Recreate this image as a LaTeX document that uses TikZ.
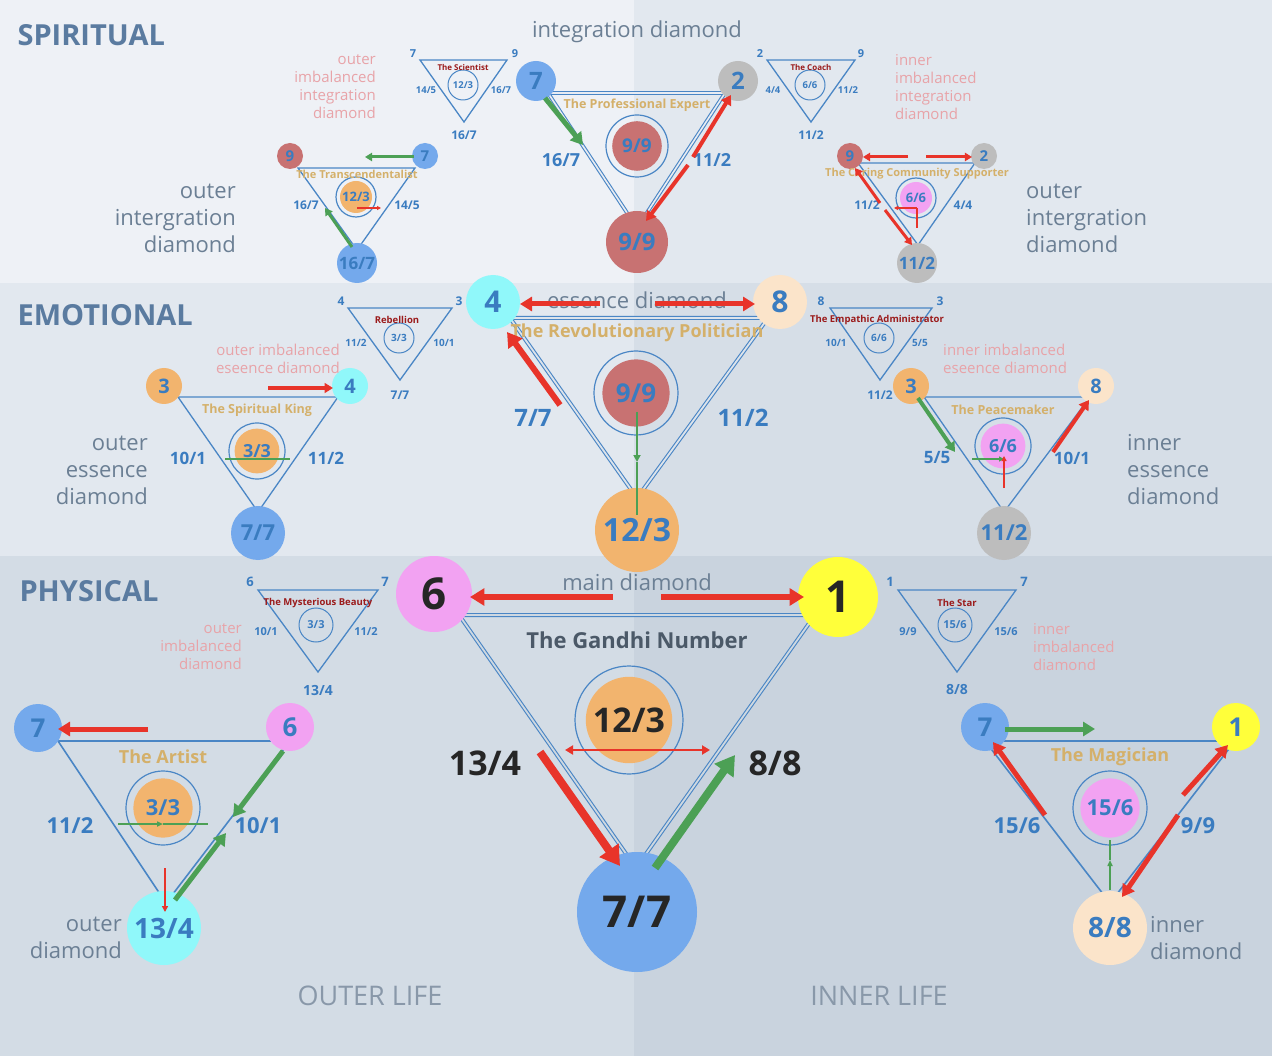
\documentclass[tikz,border=0pt]{standalone}
\usepackage{fontspec}
\setmainfont{Open Sans}
\usetikzlibrary{arrows.meta}
\definecolor{bA}{HTML}{EEF1F6}\definecolor{bB}{HTML}{E2E8EF}
\definecolor{bC}{HTML}{E2E8EF}\definecolor{bD}{HTML}{D6DEE7}
\definecolor{bE}{HTML}{D3DCE5}\definecolor{bF}{HTML}{C9D3DE}
\definecolor{tb}{HTML}{3A7CC0}\definecolor{ln}{HTML}{4A86C5}
\definecolor{cblue}{HTML}{74A9EC}\definecolor{cred}{HTML}{C87272}
\definecolor{cgray}{HTML}{BDBDBD}\definecolor{corange}{HTML}{F2B46E}
\definecolor{cpink}{HTML}{F2A2F2}\definecolor{ccyan}{HTML}{90F8FA}
\definecolor{cpeach}{HTML}{FBE4CA}\definecolor{cyel}{HTML}{FFFF3A}
\definecolor{ar}{HTML}{E8342A}\definecolor{ag}{HTML}{4CA055}
\definecolor{gold}{HTML}{D4B06A}\definecolor{dred}{HTML}{9B1B1B}
\definecolor{pk}{HTML}{E8A3A8}\definecolor{sec}{HTML}{5A7BA0}
\definecolor{gr}{HTML}{6B7F94}
\newcommand{\fs}[1]{\fontsize{#1}{#1}\selectfont}
\newcommand{\fl}[2]{\fontsize{#1}{#2}\selectfont}
\newcommand{\cn}[6]{\node[circle,fill=#4,minimum size=#3*2pt,inner sep=0,text=tb,font=\bfseries\fs{#6}] (#1) at (#2) {#5};}
\newcommand{\rg}[6]{\draw[ln,line width=1.2pt] (#2) circle (#3);\node[circle,fill=#4,minimum size=#3*1.6pt,inner sep=0,text=tb,font=\bfseries\fs{#6}] (#1) at (#2) {#5};}
\tikzset{tri/.style={ln,line width=1.3pt},
 lb/.style={text=tb,font=\bfseries\fs{#1}},
 tt/.style={text=gold,font=\bfseries\fs{#1}},
 dt/.style={text=dred,font=\bfseries\fs{#1}},
 R/.style={ar,line width=#1,-{Triangle[length=#1*2.4,width=#1*2.8]}},
 G/.style={ag,line width=#1,-{Triangle[length=#1*2.4,width=#1*2.8]}},
 gl/.style={text=gr,font=\fl{22}{27},inner sep=0},
 pl/.style={text=pk,font=\fl{15}{18},inner sep=0},
 x=1pt,y=-1pt}
\begin{document}
\begin{tikzpicture}
\fill[bA] (0,0) rectangle (634,283);\fill[bB] (634,0) rectangle (1272,283);
\fill[bC] (0,283) rectangle (634,556);\fill[bD] (634,283) rectangle (1272,556);
\fill[bE] (0,556) rectangle (634,1056);\fill[bF] (634,556) rectangle (1272,1056);
\useasboundingbox (0,0) rectangle (1272,1056);
\node[anchor=west,text=sec,font=\bfseries\fs{29}] (s1) at (14,35) {SPIRITUAL};
\node[anchor=west,text=sec,font=\bfseries\fs{29}] (s2) at (14,315) {EMOTIONAL};
\node[anchor=west,text=sec,font=\bfseries\fs{29}] (s3) at (16,591) {PHYSICAL};
\node[text=gr!80,font=\fs{27}] (ol) at (370,996) {OUTER LIFE};
\node[text=gr!80,font=\fs{27}] (il) at (879,996) {INNER LIFE};
% ===== main diamond
\draw[ln,line width=1.1pt,double,double distance=1.8pt,double=bE!50!bF] (459,615) -- (815,615) -- (636,868) -- cycle;
\node[text=gr,font=\fs{22}] (md) at (637,582) {main diamond};
\node[text=gr!70!black,font=\bfseries\fs{22}] (gn) at (637,640) {The Gandhi Number};
\cn{m6}{434,594}{38}{cpink}{\textcolor{black!85}{6}}{44}
\cn{m1}{838,597}{40}{cyel}{\textcolor{black!85}{1}}{44}
\cn{m77}{637,912}{60}{cblue}{\textcolor{black!85}{7/7}}{44}
\rg{m123}{629,720}{54}{corange}{\textcolor{black!85}{12/3}}{34}
\draw[R=6] (613,597) -- (470,597);\draw[R=6] (661,597) -- (804,597);
\draw[ar,line width=2pt,{Triangle[length=8,width=9]}-{Triangle[length=8,width=9]}] (565,750) -- (710,750);
\node[text=black!85,font=\bfseries\fs{34}] (l134) at (485,763) {13/4};
\node[text=black!85,font=\bfseries\fs{34}] (l88) at (775,763) {8/8};
\draw[R=8] (540,752) -- (620,866);
\draw[G=8] (655,868) -- (735,755);
% ===== outer diamond
\draw[tri,line width=1.6pt] (58,741) -- (290,741) -- (166,903) -- cycle;
\cn{o7}{38,728}{24}{cblue}{7}{26}
\cn{o6}{290,727}{24}{cpink}{6}{26}
\cn{o134}{164,928}{37}{ccyan}{13/4}{28}
\rg{o33}{163,808}{37}{corange}{3/3}{22}
\node[tt=18] (oa) at (163,757) {The Artist};
\node[lb=22] (o112) at (70,826) {11/2};\node[lb=22] (o101) at (258,826) {10/1};
\draw[R=5] (148,729) -- (58,729);
\draw[G=5] (283,751) -- (233,817);
\draw[G=5] (175,900) -- (226,833);
\draw[ar,line width=1.8pt,-{Triangle[length=6,width=6]}] (165,868) -- (165,912);
\draw[ag,line width=1.8pt,-{Triangle[length=6,width=5]}] (118,824) -- (163,824);\draw[ag,line width=1.8pt] (163,824) -- (208,824);
\node[anchor=east,gl,align=right] (odl) at (122,938) {outer\\diamond};
% ===== inner diamond
\draw[tri,line width=1.6pt] (985,741) -- (1235,741) -- (1110,903) -- cycle;
\cn{i7}{985,727}{24}{cblue}{7}{26}
\cn{i1}{1236,727}{24}{cyel}{1}{26}
\cn{i88}{1110,928}{37}{cpeach}{8/8}{28}
\rg{i156}{1110,808}{37}{cpink}{15/6}{22}
\node[tt=18] (im) at (1110,757) {The Magician};
\node[lb=22] (i156l) at (1017,826) {15/6};\node[lb=22] (i99) at (1198,826) {9/9};
\draw[G=5] (1005,729) -- (1095,729);
\draw[R=5] (1045,815) -- (993,742);
\draw[R=5] (1178,815) -- (1122,897);
\draw[R=5] (1183,795) -- (1228,745);
\draw[ag,line width=1.8pt,-{Triangle[length=6,width=5]}] (1110,890) -- (1110,860);\draw[ag,line width=1.8pt] (1110,860) -- (1110,840);
\node[anchor=west,gl,align=left] (idl) at (1150,938) {inner\\diamond};
% ===== physical small
\draw[tri] (258,590) -- (378,590) -- (318,672) -- cycle;
\draw[ln,line width=1pt] (316,625) circle (17);\node[lb=11] (mb33) at (316,625) {3/3};
\node[dt=9.5] (mbt) at (318,603) {The Mysterious Beauty};
\node[lb=13] (a1) at (250,582) {6};\node[lb=13] (a2) at (385,582) {7};
\node[lb=11] (a3) at (266,632) {10/1};\node[lb=11] (a4) at (366,632) {11/2};\node[lb=14] (a5) at (318,690) {13/4};
\node[anchor=east,pl,align=right] (a6) at (242,647) {outer\\imbalanced\\diamond};
\draw[tri] (898,590) -- (1016,590) -- (957,672) -- cycle;
\draw[ln,line width=1pt] (955,625) circle (17);\node[lb=11] (st156) at (955,625) {15/6};
\node[dt=9.5] (stt) at (957,603) {The Star};
\node[lb=13] (b1) at (890,582) {1};\node[lb=13] (b2) at (1024,582) {7};
\node[lb=11] (b3) at (908,632) {9/9};\node[lb=11] (b4) at (1006,632) {15/6};\node[lb=14] (b5) at (957,690) {8/8};
\node[anchor=west,pl,align=left] (b6) at (1033,647) {inner\\imbalanced\\diamond};
% ===== essence diamond
\draw[ln,line width=1.1pt,double,double distance=1.8pt,double=bC!50!bD] (510,318) -- (768,318) -- (637,498) -- cycle;
\node[text=gr,font=\fs{22}] (ed) at (637,300) {essence diamond};
\cn{e4}{493,302}{27}{ccyan}{4}{30}
\cn{e8}{780,302}{27}{cpeach}{8}{30}
\cn{e123}{637,530}{42}{corange}{12/3}{32}
\rg{e99}{636,393}{42}{cred}{9/9}{26}
\node[tt=18] (rp) at (637,333) {The Revolutionary Politician};
\draw[R=5] (600,304) -- (520,304);\draw[R=5] (655,304) -- (755,304);
\node[lb=24] (e77) at (533,418) {7/7};\node[lb=24] (e112) at (743,418) {11/2};
\draw[R=6] (560,405) -- (507,332);
\draw[ag,line width=2.5pt,-{Triangle[length=7,width=7]}] (637,412) -- (637,462);\draw[ag,line width=2.5pt] (637,462) -- (637,515);
% outer essence
\draw[tri] (178,397) -- (338,397) -- (258,512) -- cycle;
\cn{oe3}{164,386}{18}{corange}{3}{20}
\cn{oe4}{350,386}{18}{ccyan}{4}{20}
\cn{oe77}{258,533}{27}{cblue}{7/7}{22}
\rg{oe33}{257,451}{28}{corange}{3/3}{18}
\node[tt=12.5] (sk) at (257,410) {The Spiritual King};
\node[lb=17] (c1) at (188,458) {10/1};\node[lb=17] (c2) at (326,458) {11/2};
\draw[R=3.5] (268,388) -- (333,388);
\draw[ag,line width=1.8pt] (225,459) -- (290,459);
\node[anchor=east,gl,align=right] (c3) at (148,470) {outer\\essence\\diamond};
\node[anchor=east,pl,align=right] (c4) at (340,359) {outer imbalanced\\eseence diamond};
\draw[tri] (348,308) -- (452,308) -- (400,380) -- cycle;
\draw[ln,line width=1pt] (399,338) circle (15);\node[lb=10] (rb33) at (399,338) {3/3};
\node[dt=9.5] (rbt) at (397,320) {Rebellion};
\node[lb=12] (d1) at (341,301) {4};\node[lb=12] (d2) at (459,301) {3};
\node[lb=10] (d3) at (356,343) {11/2};\node[lb=10] (d4) at (444,343) {10/1};\node[lb=12] (d5) at (400,395) {7/7};
% inner essence
\draw[tri] (924,397) -- (1090,397) -- (1004,512) -- cycle;
\cn{ie3}{911,386}{18}{corange}{3}{20}
\cn{ie8}{1096,386}{18}{cpeach}{8}{20}
\cn{ie112}{1004,533}{27}{cgray}{11/2}{22}
\rg{ie66}{1003,446}{28}{cpink}{6/6}{18}
\node[tt=12.5] (pm) at (1003,410) {The Peacemaker};
\node[lb=17] (e1) at (937,458) {5/5};\node[lb=17] (e2) at (1072,458) {10/1};
\draw[G=4] (918,398) -- (955,452);
\draw[R=4] (1053,452) -- (1089,400);
\draw[ag,line width=1.8pt,-{Triangle[length=5,width=5]}] (972,459) -- (1004,459);
\draw[ar,line width=1.8pt,-{Triangle[length=5,width=5]}] (1004,488) -- (1004,456);
\node[anchor=west,gl,align=left] (e3) at (1127,470) {inner\\essence\\diamond};
\node[anchor=west,pl,align=left] (e4l) at (943,359) {inner imbalanced\\eseence diamond};
\draw[tri] (830,308) -- (932,308) -- (880,380) -- cycle;
\draw[ln,line width=1pt] (879,338) circle (15);\node[lb=10] (ea66) at (879,338) {6/6};
\node[dt=9.5] (eat) at (877,320) {The Empathic Administrator};
\node[lb=12] (f1) at (821,301) {8};\node[lb=12] (f2) at (940,301) {3};
\node[lb=10] (f3) at (836,343) {10/1};\node[lb=10] (f4) at (920,343) {5/5};\node[lb=12] (f5) at (880,395) {11/2};
% ===== integration diamond
\draw[ln,line width=1.1pt,double,double distance=1.6pt,double=bA!50!bB] (548,93) -- (725,93) -- (637,228) -- cycle;
\node[text=gr,font=\fs{22}] (igd) at (637,32) {integration diamond};
\cn{g7}{536,81}{20}{cblue}{7}{24}
\cn{g2}{738,81}{20}{cgray}{2}{24}
\cn{g99}{637,242}{31}{cred}{9/9}{24}
\rg{g99i}{637,146}{31}{cred}{9/9}{19}
\node[tt=12.5] (pe) at (637,105) {The Professional Expert};
\node[lb=18] (g1) at (561,160) {16/7};\node[lb=18] (g2l) at (712,160) {11/2};
\draw[G=5] (545,98) -- (583,145);
\draw[R=4] (693,157) -- (731,95);
\draw[R=4] (688,165) -- (646,221);
% outer integration
\draw[tri] (298,168) -- (415,168) -- (357,250) -- cycle;
\cn{oi9}{290,156}{13}{cred}{9}{15}
\cn{oi7}{425,156}{13}{cblue}{7}{15}
\cn{oi167}{357,263}{20}{cblue}{16/7}{17}
\rg{oi123}{356,197}{20}{corange}{12/3}{13}
\node[tt=11] (tr) at (357,174) {The Transcendentalist};
\node[lb=12] (h1) at (306,205) {16/7};\node[lb=12] (h2) at (407,205) {14/5};
\draw[G=3] (414,157) -- (365,157);
\draw[G=3] (352,247) -- (325,208);
\draw[ar,line width=1.2pt,-{Triangle[length=4,width=4]}] (357,208) -- (381,208);
\node[anchor=east,gl,align=right] (h3) at (236,218) {outer\\intergration\\diamond};
\node[anchor=east,pl,align=right] (h4) at (376,87) {outer\\imbalanced\\integration\\diamond};
\draw[tri] (420,60) -- (507,60) -- (464,122) -- cycle;
\draw[ln,line width=1pt] (463,85) circle (15);\node[lb=9.5] (sc) at (463,85) {12/3};
\node[dt=8] (sct) at (463,68) {The Scientist};
\node[lb=11] (k1) at (413,54) {7};\node[lb=11] (k2) at (515,54) {9};
\node[lb=9.5] (k3) at (426,90) {14/5};\node[lb=9.5] (k4) at (501,90) {16/7};\node[lb=12] (k5) at (464,135) {16/7};
% inner integration
\draw[tri] (858,163) -- (975,163) -- (918,245) -- cycle;
\cn{ii9}{850,156}{13}{cred}{9}{15}
\cn{ii2}{984,156}{13}{cgray}{2}{15}
\cn{ii112}{917,263}{20}{cgray}{11/2}{17}
\rg{ii66}{916,198}{20}{cpink}{6/6}{13}
\node[tt=11] (cc) at (917,174) {The Caring Community Supporter};
\node[lb=12] (j1) at (867,205) {11/2};\node[lb=12] (j2) at (963,205) {4/4};
\draw[R=3] (908,157) -- (863,157);\draw[R=3] (926,157) -- (972,157);
\draw[R=3] (880,203) -- (855,168);\draw[R=3] (885,210) -- (912,245);
\draw[ar,line width=1.2pt] (917,228) -- (917,208);\draw[ar,line width=1.2pt,-{Triangle[length=4,width=4]}] (917,208) -- (894,208);
\node[anchor=west,gl,align=left] (j3) at (1026,218) {outer\\intergration\\diamond};
\node[anchor=west,pl,align=left] (j4) at (895,87) {inner\\imbalanced\\integration\\diamond};
\draw[tri] (767,60) -- (855,60) -- (811,122) -- cycle;
\draw[ln,line width=1pt] (810,85) circle (15);\node[lb=9.5] (co) at (810,85) {6/6};
\node[dt=8] (cot) at (811,68) {The Coach};
\node[lb=11] (n1) at (760,54) {2};\node[lb=11] (n2) at (861,54) {9};
\node[lb=9.5] (n3) at (773,90) {4/4};\node[lb=9.5] (n4) at (848,90) {11/2};\node[lb=12] (n5) at (811,135) {11/2};
\end{tikzpicture}
\end{document}
